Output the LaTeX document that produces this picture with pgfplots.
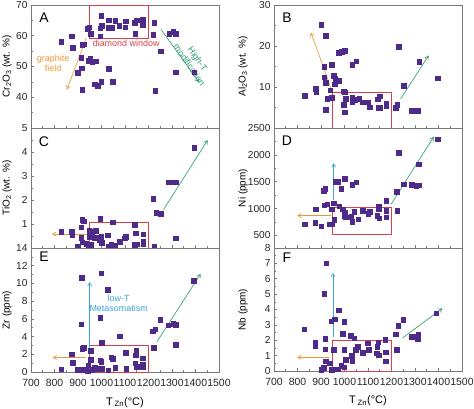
\documentclass[border=0pt]{standalone}
\usepackage{fontspec}
\setmainfont{Liberation Sans}
\usepackage{pgfplots}
\pgfplotsset{compat=1.18}
\usetikzlibrary{arrows.meta}
\definecolor{pt}{HTML}{4E2A8A}
\definecolor{rbox}{HTML}{D8404A}
\definecolor{gr}{HTML}{2E9E72}
\definecolor{org}{HTML}{E89A38}
\definecolor{blu}{HTML}{3AA6DA}
\definecolor{axg}{HTML}{7A7A7A}
\pgfplotsset{
  panel/.style={
    scale only axis, width=188bp, anchor=north west,
    xmin=700, xmax=1500, xtick={700,800,...,1500}, minor x tick num=1,
    minor y tick num=1,
    axis line style={axg, line width=0.6pt},
    tick style={axg, line width=0.6pt},
    major tick length=3bp, minor tick length=2bp,
    tick align=inside, xtick pos=bottom, ytick pos=left,
    tick label style={font=\fontsize{10.2}{11}\selectfont, text=black!85},
    xticklabel style={yshift=-3.5bp, inner xsep=0pt, font=\fontsize{10.5}{11}\selectfont},
    /pgf/number format/assume math mode=true,
    /pgf/number format/set thousands separator={},
    ylabel style={font=\fontsize{8.8}{9}\selectfont},
    clip=false,
  },
  leftp/.style={every axis y label/.style={at={(axis description cs:0,0.5)}, xshift=-24bp, rotate=90, anchor=center}},
  rightp/.style={every axis y label/.style={at={(axis description cs:0,0.5)}, xshift=-31bp, rotate=90, anchor=center}},
  bottomx/.style={xlabel={T\,\textsubscript{Zn}(°C)},
    every axis x label/.style={at={(axis description cs:0.5,0)}, anchor=base, yshift=-33bp, font=\fontsize{11}{12}\selectfont}},
  pts/.style={only marks, mark=square*, mark size=2.3pt, color=pt, mark options={draw=pt, fill=pt}},
}
\tikzset{
  arr/.style={line width=0.65pt, -{Straight Barb[length=3.5pt,width=4pt]}},
  lett/.style={font=\fontsize{14}{14}\selectfont, anchor=center},
  ann/.style={font=\fontsize{9}{10}\selectfont, align=center},
}
\begin{document}
\begin{tikzpicture}
% ---------- A ----------
\begin{axis}[panel, leftp, at={(31bp,-5bp)}, height=123bp,
  ymin=30, ymax=70, ytick={30,40,...,70}, yticklabels={,40,50,60,70}, xticklabels={},
  ylabel={Cr\textsubscript{2}O\textsubscript{3} (wt. \%)}]
\addplot[pts] coordinates {
(828,58.0) (873,59.9) (877,56.2) (917,57.1) (924,57.3) (941,62.2) (947,62.8) (955,60.7)
(913,52.9) (945,51.9) (952,52.5) (960,51.4) (976,51.7) (915,49.5) (899,47.9) (918,42.5)
(972,44.2) (984,43.8) (999,45.1) (1030,49.2) (1047,45.0) (998,66.5) (995,62.4) (1002,63.3)
(995,59.9) (1030,65.1) (1029,62.6) (1043,62.6) (1059,64.8) (1076,63.2) (1101,62.8) (1104,64.7)
(1142,64.2) (1149,65.0) (1144,60.6) (1176,65.2) (1176,64.1) (1176,63.4) (1225,64.3) (1220,60.4)
(1252,55.0) (1229,42.2) (1288,60.6) (1305,61.4) (1317,60.7) (1317,48.1) (1395,48.1)
};
\draw[rbox, line width=0.8pt] (axis cs:950,59.3) rectangle (axis cs:1200,70);
\draw[arr, org] (axis cs:935,59.3) -- (axis cs:853,42.5);
\draw[arr, gr] (axis cs:1254,62.0) -- (axis cs:1415,44.9);
\node[ann, org] at (axis cs:794,51) {graphite\\field};
\node[ann, rbox] at (axis cs:1105,57.4) {diamond window};
\node[ann, gr, rotate=-55] at (axis cs:1392,51.5) {High-T\\modification};
\node[lett] at (axis cs:755,65.8) {A};
\end{axis}
% ---------- C ----------
\begin{axis}[panel, leftp, at={(31bp,-128bp)}, height=120bp,
  ymin=0, ymax=5, ytick={0,1,...,5}, yticklabels={,1,2,3,4,5}, xticklabels={},
  ylabel={TiO\textsubscript{2} (wt. \%)}]
\addplot[pts] coordinates {
(828,0.69) (874,0.69) (876,0.56) (899,0.08) (914,0.42) (918,1.18) (924,1.11) (914,0.86)
(918,0.24) (935,0.18) (944,0.07) (947,0.71) (950,0.46) (955,0.13) (960,0.67) (972,0.42)
(975,0.72) (984,0.42) (995,1.21) (998,0.46) (1001,0.21) (992,0.35) (1027,0.53) (1030,0.08)
(1047,1.07) (1042,0.14) (1059,0.11) (1077,0.26) (1098,0.40) (1104,0.47) (1142,0.96) (1145,0.61)
(1141,0.13) (1149,0.15) (1178,0.57) (1178,0.29) (1178,0.15) (1220,2.06) (1225,0.07) (1232,1.46)
(1252,1.44) (1287,2.75) (1307,2.75) (1317,2.75) (1317,0.40) (1395,4.19)
};
\draw[rbox, line width=0.8pt] (axis cs:950,0) rectangle (axis cs:1200,1.07);
\draw[arr, org] (axis cs:945,0.58) -- (axis cs:789,0.58);
\draw[arr, gr] (axis cs:1264,1.6) -- (axis cs:1452,4.5);
\node[lett] at (axis cs:755,4.45) {C};
\end{axis}
% ---------- E ----------
\begin{axis}[panel, leftp, bottomx, at={(31bp,-248bp)}, height=124bp,
  ymin=0, ymax=14, ytick={0,2,...,14},
  ylabel={Zr (ppm)}]
\addplot[pts] coordinates {
(828,0.33) (873,1.99) (877,1.03) (899,0.29) (914,5.41) (916,10.64) (917,2.61) (924,2.72)
(918,0.26) (935,0.29) (944,0.77) (941,0.11) (955,2.39) (955,1.40) (960,0.26) (971,0.52)
(982,0.37) (995,1.32) (998,1.18) (995,6.15) (1001,3.28) (998,11.15) (1002,0.40) (1027,9.31)
(1029,0.22) (1042,1.69) (1047,1.47) (1059,0.48) (1077,4.05) (1104,2.21) (1105,0.37) (1144,0.99)
(1145,1.91) (1147,2.39) (1149,0.59) (1176,1.55) (1176,0.85) (1176,0.52) (1219,4.60) (1229,4.82)
(1222,2.76) (1250,5.93) (1284,5.30) (1305,5.48) (1317,5.37) (1315,3.09) (1392,10.34)
};
\draw[rbox, line width=0.8pt] (axis cs:950,0) rectangle (axis cs:1200,3.05);
\draw[arr, blu] (axis cs:950,1.88) -- (axis cs:950,10.16);
\draw[arr, org] (axis cs:935,1.62) -- (axis cs:792,1.62);
\draw[arr, gr] (axis cs:1236,3.42) -- (axis cs:1422,11.08);
\node[ann, blu] at (axis cs:1073,7.75) {low-T\\Metasomatism};
\node[lett] at (axis cs:755,13.0) {E};
\end{axis}
% ---------- B ----------
\begin{axis}[panel, rightp, at={(274bp,-5bp)}, height=123bp,
  ymin=0, ymax=30, ytick={0,10,20,30}, yticklabels={,10,20,30}, xticklabels={},
  ylabel={Al\textsubscript{2}O\textsubscript{3} (wt. \%)}]
\addplot[pts] coordinates {
(830,7.9) (878,9.6) (879,8.9) (900,25.2) (920,22.5) (914,15.0) (914,12.4) (921,11.1)
(919,4.4) (927,7.2) (940,9.2) (946,7.4) (946,15.4) (954,12.8) (961,12.0) (977,11.6)
(958,10.7) (975,18.3) (989,18.6) (1002,18.9) (996,9.0) (1000,8.7) (1006,7.1) (996,5.7)
(1000,3.9) (1032,15.4) (1050,16.3) (1032,7.4) (1033,6.3) (1044,6.9) (1063,7.1) (1078,6.3)
(1101,6.3) (1106,5.1) (1142,7.0) (1149,7.8) (1144,5.0) (1151,5.0) (1177,6.0) (1178,5.4)
(1219,5.0) (1225,5.7) (1231,19.8) (1252,10.3) (1287,4.2) (1305,4.2) (1314,4.2) (1317,16.1)
(1396,12.1)
};
\draw[rbox, line width=0.8pt] (axis cs:950,0) rectangle (axis cs:1200,8.6);
\draw[arr, org] (axis cs:944,9.5) -- (axis cs:857,23.3);
\draw[arr, gr] (axis cs:1239,7.1) -- (axis cs:1358,17.7);
\node[lett] at (axis cs:755,27.0) {B};
\end{axis}
% ---------- D ----------
\begin{axis}[panel, rightp, at={(274bp,-128bp)}, height=120bp,
  ymin=265, ymax=2500, ytick={500,1000,...,2500}, xticklabels={},
  ylabel={Ni (ppm)}]
\addplot[pts] coordinates {
(830,708) (875,739) (878,985) (900,672) (912,1330) (917,1367) (914,1065) (927,1078)
(937,708) (946,708) (946,985) (954,1096) (957,789) (961,1496) (974,1496) (977,1047)
(986,1373) (993,991) (1000,930) (998,868) (1006,838) (1002,1557) (1029,850) (1032,758)
(1042,942) (1033,1446) (1049,1490) (1058,801) (1077,955) (1101,899) (1106,942) (1140,868)
(1146,998) (1147,819) (1146,1041) (1177,1145) (1178,961) (1177,838) (1221,1311) (1225,955)
(1231,2037) (1252,1453) (1287,1440) (1305,1422) (1315,1822) (1315,1434) (1396,2295)
};
\draw[rbox, line width=0.8pt] (axis cs:950,512) rectangle (axis cs:1200,1016);
\draw[arr, blu] (axis cs:954,1158) -- (axis cs:954,1846);
\draw[arr, org] (axis cs:943,868) -- (axis cs:799,868);
\draw[arr, gr] (axis cs:1198,1078) -- (axis cs:1380,2338);
\node[lett] at (axis cs:755,2265) {D};
\end{axis}
% ---------- F ----------
\begin{axis}[panel, rightp, bottomx, at={(274bp,-248bp)}, height=123bp,
  ymin=0, ymax=8, ytick={0,1,...,8},
  ylabel={Nb (ppm)}]
\addplot[pts] coordinates {
(828,2.71) (875,1.87) (876,1.65) (914,5.01) (923,7.01) (917,2.10) (917,1.43) (920,0.63)
(912,0.20) (900,0.07) (937,0.50) (944,3.23) (958,3.38) (955,1.37) (946,0.09) (975,3.95)
(970,0.13) (986,0.35) (993,2.43) (998,3.19) (999,1.37) (999,0.24) (1005,0.72) (1027,2.30)
(1030,1.00) (1032,0.65) (1042,2.13) (1047,1.37) (1057,1.58) (1077,1.19) (1098,1.82) (1104,1.37)
(1137,1.15) (1140,1.58) (1144,1.87) (1146,1.02) (1174,2.04) (1176,1.21) (1176,0.65) (1219,2.39)
(1222,1.37) (1228,2.93) (1249,3.32) (1284,2.23) (1304,2.23) (1312,2.06) (1314,2.36) (1391,3.77)
};
\draw[rbox, line width=0.8pt] (axis cs:950,0) rectangle (axis cs:1200,1.97);
\draw[arr, blu] (axis cs:951,2.23) -- (axis cs:951,6.38);
\draw[arr, org] (axis cs:936,0.89) -- (axis cs:799,0.89);
\draw[arr, gr] (axis cs:1247,2.15) -- (axis cs:1417,4.08);
\node[lett] at (axis cs:755,7.4) {F};
\end{axis}
\pgfresetboundingbox
\path[use as bounding box] (0,0) rectangle (474bp,-409bp);
\end{tikzpicture}
\end{document}
